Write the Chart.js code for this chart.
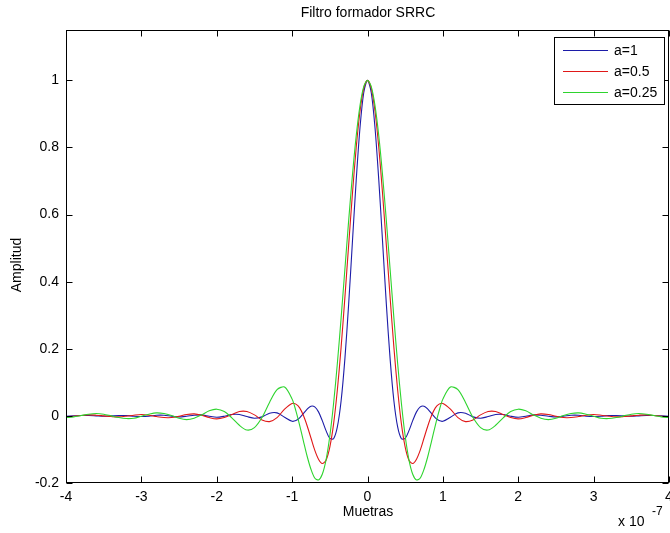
<!DOCTYPE html>
<html>
<head>
<meta charset="utf-8">
<script src="https://cdn.jsdelivr.net/npm/chart.js@4/dist/chart.umd.min.js"></script>
<style>
  html, body { margin:0; padding:0; background:#fff; }
  #wrap { width:670px; height:533px; }
</style>
</head>
<body>
<div id="wrap"><canvas id="srrc" width="670" height="533"></canvas></div>
<script>
// eje x en unidades de 1e-7
const xs = [-4.0,-3.9,-3.8,-3.7,-3.6,-3.5,-3.4,-3.3,-3.2,-3.1,-3.0,-2.9,-2.8,-2.7,-2.6,-2.5,-2.4,-2.3,-2.2,-2.1,-2.0,-1.9,-1.8,-1.7,-1.6,-1.5,-1.4,-1.3,-1.2,-1.1,
  -1.0,-0.95,-0.9,-0.85,-0.8,-0.75,-0.7,-0.65,-0.6,-0.55,-0.5,-0.45,-0.4,-0.35,-0.3,-0.25,-0.2,-0.15,-0.1,-0.05,0,
  0.05,0.1,0.15,0.2,0.25,0.3,0.35,0.4,0.45,0.5,0.55,0.6,0.65,0.7,0.75,0.8,0.85,0.9,0.95,1.0,
  1.1,1.2,1.3,1.4,1.5,1.6,1.7,1.8,1.9,2.0,2.1,2.2,2.3,2.4,2.5,2.6,2.7,2.8,2.9,3.0,3.1,3.2,3.3,3.4,3.5,3.6,3.7,3.8,3.9,4.0];

// a=1
const a1 = [-0.001,0.000,0.001,0.001,0.000,-0.001,0.000,0.001,0.001,-0.001,-0.002,-0.001,0.002,0.002,-0.001,-0.003,-0.001,0.002,0.003,-0.001,-0.004,-0.001,0.004,0.004,-0.002,-0.007,-0.003,0.008,0.009,-0.004,
  -0.016,-0.014,-0.006,0.007,0.020,0.029,0.027,0.012,-0.014,-0.044,-0.067,-0.068,-0.033,0.045,0.170,0.333,0.519,0.702,0.858,0.963,1,
  0.963,0.858,0.702,0.519,0.333,0.170,0.045,-0.033,-0.068,-0.067,-0.044,-0.014,0.012,0.027,0.029,0.020,0.007,-0.006,-0.014,-0.016,
  -0.004,0.009,0.008,-0.003,-0.007,-0.002,0.004,0.004,-0.001,-0.004,-0.001,0.003,0.002,-0.001,-0.003,-0.001,0.002,0.002,-0.001,-0.002,-0.001,0.001,0.001,0.000,-0.001,0.000,0.001,0.001,0.000,-0.001];

// a=0.5
const a05 = [-0.002,-0.001,0.001,0.003,0.002,0.000,-0.002,-0.003,-0.001,0.002,0.004,0.002,-0.002,-0.005,-0.005,-0.001,0.004,0.006,0.002,-0.005,-0.009,-0.005,0.004,0.013,0.013,0.003,-0.012,-0.017,-0.005,0.020,
  0.037,0.035,0.024,0.001,-0.030,-0.066,-0.102,-0.129,-0.142,-0.132,-0.093,-0.024,0.077,0.205,0.353,0.509,0.662,0.799,0.907,0.976,1,
  0.976,0.907,0.799,0.662,0.509,0.353,0.205,0.077,-0.024,-0.093,-0.132,-0.142,-0.129,-0.102,-0.066,-0.030,0.001,0.024,0.035,0.037,
  0.020,-0.005,-0.017,-0.012,0.003,0.013,0.013,0.004,-0.005,-0.009,-0.005,0.002,0.006,0.004,-0.001,-0.005,-0.005,-0.002,0.002,0.004,0.002,-0.001,-0.003,-0.002,0.000,0.002,0.003,0.001,-0.001,-0.002];

// a=0.25
const a025 = [-0.005,-0.003,0.001,0.005,0.007,0.005,0.000,-0.005,-0.008,-0.007,-0.001,0.005,0.009,0.007,0.001,-0.007,-0.011,-0.007,0.003,0.015,0.020,0.013,-0.006,-0.028,-0.042,-0.035,-0.005,0.040,0.078,0.086,
  0.050,0.015,-0.028,-0.075,-0.121,-0.159,-0.185,-0.191,-0.174,-0.131,-0.060,0.037,0.156,0.292,0.437,0.582,0.717,0.834,0.924,0.981,1,
  0.981,0.924,0.834,0.717,0.582,0.437,0.292,0.156,0.037,-0.060,-0.131,-0.174,-0.191,-0.185,-0.159,-0.121,-0.075,-0.028,0.015,0.050,
  0.086,0.078,0.040,-0.005,-0.035,-0.042,-0.028,-0.006,0.013,0.020,0.015,0.003,-0.007,-0.011,-0.007,0.001,0.007,0.009,0.005,-0.001,-0.007,-0.008,-0.005,0.000,0.005,0.007,0.005,0.001,-0.003,-0.005];

const xTicks = [-4,-3,-2,-1,0,1,2,3,4];
const yTicks = [-0.2,0,0.2,0.4,0.6,0.8,1];
const seriesNames = ["a=1","a=0.5","a=0.25"];
const seriesColors = ["#1c1ca8","#e01818","#2ed42e"];

const FONT = '"Liberation Sans", Arial, sans-serif';

function pts(ys){ return xs.map((x,i)=>({x:x, y:ys[i]})); }

// marco estilo matlab: caja, ticks hacia dentro, textos y leyenda
const matlabFrame = {
  id:'matlabFrame',
  afterDraw(chart){
    const ctx = chart.ctx;
    const a = chart.chartArea;
    const sx = chart.scales.x, sy = chart.scales.y;
    const L = Math.round(a.left)+0.5, R = Math.round(a.right)-0.5;
    const T = Math.round(a.top)+0.5, B = Math.round(a.bottom)-0.5;
    ctx.save();
    ctx.strokeStyle = '#000';
    ctx.lineWidth = 1;
    ctx.strokeRect(L, T, R-L, B-T);
    ctx.beginPath();
    xTicks.forEach(v=>{
      const px = Math.round(sx.getPixelForValue(v))+0.5;
      ctx.moveTo(px,B); ctx.lineTo(px,B-6);
      ctx.moveTo(px,T); ctx.lineTo(px,T+6);
    });
    yTicks.forEach(v=>{
      const py = Math.round(sy.getPixelForValue(v))+0.5;
      ctx.moveTo(L,py); ctx.lineTo(L+6,py);
      ctx.moveTo(R,py); ctx.lineTo(R-6,py);
    });
    ctx.stroke();

    ctx.fillStyle = '#000';
    ctx.font = '14px ' + FONT;
    ctx.textAlign = 'center';
    ctx.textBaseline = 'middle';
    ctx.fillText('Filtro formador SRRC', 368, 13);
    ctx.fillText('Muetras', 368, 512);
    ctx.save();
    ctx.translate(17, 265);
    ctx.rotate(-Math.PI/2);
    ctx.fillText('Amplitud', 0, 0);
    ctx.restore();
    ctx.textAlign = 'left';
    ctx.fillText('x 10', 618, 522);
    ctx.font = '12px ' + FONT;
    ctx.fillText('-7', 652, 512);

    // leyenda
    const lx = 554.5, ly = 37.5, lw = 110, lh = 67;
    ctx.fillStyle = '#fff';
    ctx.fillRect(lx, ly, lw, lh);
    ctx.strokeStyle = '#000';
    ctx.strokeRect(lx, ly, lw, lh);
    ctx.font = '14px ' + FONT;
    chart.data.datasets.forEach((ds,i)=>{
      const y = 50 + i*21;
      ctx.strokeStyle = ds.borderColor;
      ctx.beginPath();
      ctx.moveTo(563, y+0.5); ctx.lineTo(608, y+0.5);
      ctx.stroke();
      ctx.fillStyle = '#000';
      ctx.textAlign = 'left';
      ctx.fillText(ds.label, 614, y+1);
    });
    ctx.restore();
  }
};

new Chart(document.getElementById('srrc'), {
  type:'line',
  data:{
    datasets:[
      {label:seriesNames[0], data:pts(a1), borderColor:seriesColors[0], order:3},
      {label:seriesNames[1], data:pts(a05), borderColor:seriesColors[1], order:2},
      {label:seriesNames[2], data:pts(a025), borderColor:seriesColors[2], order:1}
    ].map(d=>Object.assign(d,{borderWidth:1.1, pointRadius:0, tension:0.3, fill:false}))
  },
  options:{
    responsive:false,
    animation:false,
    events:[],
    layout:{ padding:{top:30, right:1, left:0, bottom:0} },
    plugins:{ legend:{display:false}, tooltip:{enabled:false}, title:{display:false} },
    scales:{
      x:{
        type:'linear', min:-4, max:4,
        afterBuildTicks:(s)=>{ s.ticks = xTicks.map(v=>({value:v})); },
        afterFit:(s)=>{ s.height = 50; s.paddingLeft = 0; s.paddingRight = 0; },
        grid:{display:false, drawTicks:false},
        border:{display:false},
        ticks:{ padding:6, color:'#000', font:{family:FONT, size:14}, maxRotation:0, autoSkip:false,
          callback:(v)=>String(v) }
      },
      y:{
        type:'linear', min:-0.2, max:1.15,
        afterBuildTicks:(s)=>{ s.ticks = yTicks.map(v=>({value:v})); },
        afterFit:(s)=>{ s.width = 66; s.paddingTop = 0; s.paddingBottom = 0; },
        grid:{display:false, drawTicks:false},
        border:{display:false},
        ticks:{ padding:7, color:'#000', font:{family:FONT, size:14}, autoSkip:false,
          callback:(v)=>String(Math.round(v*10)/10) }
      }
    }
  },
  plugins:[matlabFrame]
});
</script>
</body>
</html>
